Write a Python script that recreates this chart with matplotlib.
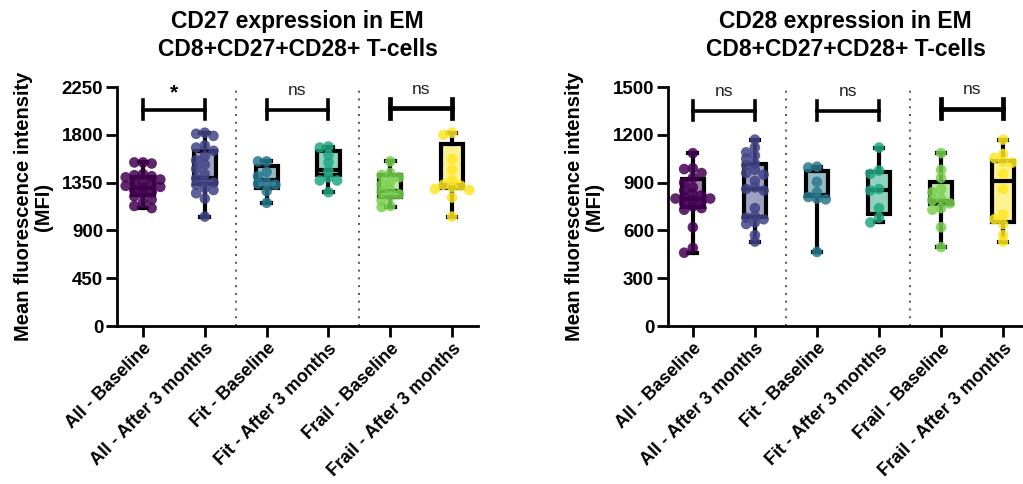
import matplotlib
matplotlib.use("Agg")
import matplotlib.pyplot as plt
import numpy as np

plt.rcParams['font.family'] = ['Liberation Sans', 'DejaVu Sans']

groups = ['All - Baseline', 'All - After 3 months', 'Fit - Baseline',
          'Fit - After 3 months', 'Frail - Baseline', 'Frail - After 3 months']
colors = ['#440154', '#414487', '#2a788e', '#22a884', '#7ad151', '#fde725']

# CD27 panel - individual points
cd27_points = [
    [1540, 1540, 1530, 1430, 1420, 1410, 1400, 1380, 1360, 1350, 1340,
     1320, 1310, 1300, 1280, 1260, 1240, 1220, 1190, 1160, 1130, 1110],
    [1820, 1810, 1790, 1700, 1680, 1650, 1600, 1560, 1520, 1480, 1430,
     1390, 1360, 1350, 1330, 1300, 1280, 1250, 1200, 1030],
    [1550, 1550, 1450, 1410, 1350, 1340, 1330, 1270, 1160],
    [1690, 1680, 1610, 1540, 1460, 1400, 1370, 1370, 1260],
    [1550, 1440, 1420, 1400, 1360, 1330, 1280, 1260, 1240, 1220, 1180, 1130, 1120],
    [1820, 1800, 1570, 1470, 1370, 1330, 1320, 1310, 1290, 1280, 1210, 1030],
]
cd27_q1 = [1234, 1340, 1300, 1420, 1210, 1300]
cd27_med = [1300, 1390, 1370, 1470, 1270, 1330]
cd27_q3 = [1406, 1645, 1510, 1645, 1420, 1715]
cd27_sig = ['*', 'ns', 'ns']

# CD28 panel
cd28_points = [
    [1085, 990, 985, 960, 930, 900, 870, 850, 830, 820, 810, 800, 800,
     790, 780, 770, 750, 740, 730, 620, 490, 460],
    [1170, 1120, 1090, 1070, 1050, 1020, 1010, 980, 960, 950, 910, 870,
     860, 850, 740, 690, 680, 670, 650, 640, 570, 530],
    [1000, 995, 905, 840, 810, 800, 795, 465],
    [1120, 975, 955, 860, 850, 740, 680, 650],
    [1085, 980, 930, 860, 840, 800, 790, 770, 740, 730, 620, 495],
    [1170, 1080, 1055, 1030, 1025, 955, 860, 700, 670, 640, 570, 530],
]
cd28_q1 = [750, 683, 815, 704, 767, 652]
cd28_med = [800, 860, 820, 854, 787, 908]
cd28_q3 = [923, 1015, 970, 965, 906, 1033]
cd28_sig = ['ns', 'ns', 'ns']


def swarm(vals, ymax, step=0.14, px_x=62.0, px_h=239.0, diam=6.0):
    # simple deterministic spread so close values sit side by side
    placed = []
    offs = []
    for v in vals:
        py = v * px_h / ymax
        chosen = 0.0
        found = False
        for k in range(0, 3):
            cands = [0.0] if k == 0 else [-k * step, k * step]
            for c in cands:
                if all(np.hypot((c - pc) * px_x, py - pp) >= diam for pc, pp in placed):
                    chosen = c
                    found = True
                    break
            if found:
                break
        if not found:
            # fall back to the least crowded slot
            best = None
            for c in [0.0, -step, step, -2 * step, 2 * step]:
                d = min(np.hypot((c - pc) * px_x, py - pp) for pc, pp in placed)
                if best is None or d > best[0]:
                    best = (d, c)
            chosen = best[1]
        placed.append((chosen, py))
        offs.append(chosen)
    return np.array(offs)


def draw_panel(ax, points, q1, med, q3, sig, ymax, yticks, title, bracket_y, bracket_h, xlim):
    pos = np.arange(len(groups))
    stats = []
    for i, p in enumerate(points):
        stats.append({'whislo': min(p), 'q1': q1[i], 'med': med[i], 'q3': q3[i],
                      'whishi': max(p), 'fliers': []})
    bp = ax.bxp(stats, positions=pos, widths=0.36, patch_artist=True, showfliers=False,
                boxprops=dict(linewidth=3.0, edgecolor='black'),
                medianprops=dict(color='black', linewidth=3.0),
                whiskerprops=dict(color='black', linewidth=3.0),
                capprops=dict(color='black', linewidth=3.0), capwidths=0.14)
    for patch, c in zip(bp['boxes'], colors):
        patch.set_facecolor(matplotlib.colors.to_rgba(c, 0.5))
    for i, p in enumerate(points):
        offs = swarm(p, ymax)
        ax.scatter(pos[i] + offs, p, s=58, color=colors[i], alpha=0.85,
                   edgecolors='none', zorder=3)

    for xs in [1.5, 3.5]:
        ax.axvline(xs, color='#555555', linestyle=(0, (1, 3)), linewidth=1.4, zorder=0)

    for j, s in enumerate(sig):
        a, b = 2 * j, 2 * j + 1
        lw = 3.4 if j == 2 else 2.6
        yb = bracket_y[j]
        ax.plot([a, b], [yb, yb], color='black', linewidth=lw, clip_on=False)
        for xx in [a, b]:
            ax.plot([xx, xx], [yb - bracket_h, yb + bracket_h], color='black',
                    linewidth=lw, clip_on=False)
        if s == '*':
            ax.text((a + b) / 2, yb + bracket_h * 0.8, s, ha='center', va='bottom',
                    fontsize=15, fontweight='bold')
        else:
            ax.text((a + b) / 2, yb + bracket_h * 1.2, s, ha='center', va='bottom',
                    fontsize=12.5, color='#222222')

    ax.set_xlim(*xlim)
    ax.set_ylim(0, ymax)
    ax.set_yticks(yticks)
    ax.set_xticks(pos)
    ax.set_xticklabels(groups, rotation=45, ha='right', rotation_mode='anchor',
                       fontsize=13, fontweight='bold')
    for lab in ax.get_yticklabels():
        lab.set_fontweight('bold')
        lab.set_fontsize(13.5)
    ax.spines['top'].set_visible(False)
    ax.spines['right'].set_visible(False)
    ax.spines['left'].set_linewidth(2.0)
    ax.spines['bottom'].set_linewidth(2.0)
    ax.tick_params(axis='both', width=2.0, length=8, pad=2)
    ax.set_ylabel('Mean fluorescence intensity\n(MFI)', fontsize=14.5, fontweight='bold',
                  labelpad=6, linespacing=1.1)
    ax.set_title(title, fontsize=16.5, fontweight='bold', pad=22, linespacing=1.28)


fig = plt.figure(figsize=(10.23, 4.84), dpi=100)
ax1 = fig.add_axes([0.1144, 0.3264, 0.3529, 0.4938])
ax2 = fig.add_axes([0.653, 0.3264, 0.347, 0.4938])

draw_panel(ax1, cd27_points, cd27_q1, cd27_med, cd27_q3, cd27_sig, 2250,
           [0, 450, 900, 1350, 1800, 2250],
           'CD27 expression in EM\nCD8+CD27+CD28+ T-cells',
           [2035, 2035, 2050], 90, (-0.42, 5.42))
draw_panel(ax2, cd28_points, cd28_q1, cd28_med, cd28_q3, cd28_sig, 1500,
           [0, 300, 600, 900, 1200, 1500],
           'CD28 expression in EM\nCD8+CD27+CD28+ T-cells',
           [1350, 1350, 1365], 60, (-0.4, 5.32))

fig.savefig('out.png', dpi=100)
